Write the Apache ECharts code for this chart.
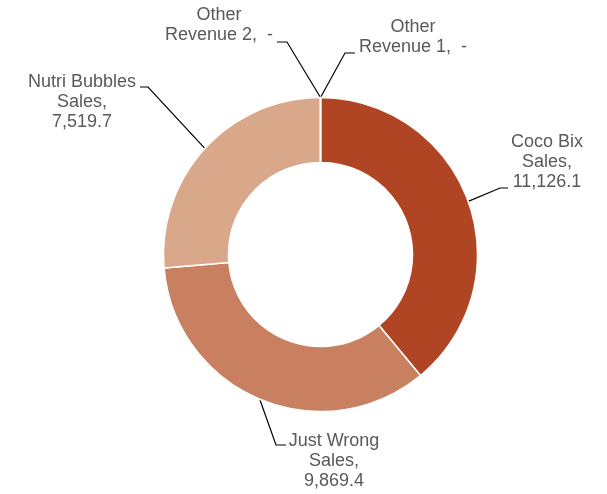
<!DOCTYPE html>
<html>
<head>
<meta charset="utf-8">
<script src="https://cdn.jsdelivr.net/npm/echarts@6/dist/echarts.min.js"></script>
<style>
  html, body { margin: 0; padding: 0; background: #ffffff; }
  #chart { width: 607px; height: 494px; }
</style>
</head>
<body>
<div id="chart"></div>
<script>
// Revenue split by product line
const categories = [
  'Coco Bix\nSales',
  'Just Wrong\nSales',
  'Nutri Bubbles\nSales',
  'Other\nRevenue 2',
  'Other\nRevenue 1'
];
const values = [11126.1, 9869.4, 7519.7, 0, 0];
const colors = ['#b04524', '#c98060', '#d9a78a', '#c9c9c9', '#a5a5a5'];

// Label anchor (centre of the text block) and leader-line elbow/end per slice
const labelPlacement = [
  { x: 547, y: 162, elbow: [500, 188], end: [508, 188] },
  { x: 334, y: 461, elbow: [276, 445], end: [286, 445] },
  { x: 82,  y: 102, elbow: [148, 87],  end: [140, 87] },
  { x: 219, y: 25,  elbow: [287, 42],  end: [277, 42] },
  { x: 413, y: 37,  elbow: [345, 53],  end: [355, 53] }
];

function fmtValue(v) {
  if (v === 0) return '-';
  return v.toLocaleString('en-US', { minimumFractionDigits: 1, maximumFractionDigits: 1 });
}

const chart = echarts.init(document.getElementById('chart'), null, { renderer: 'canvas' });

chart.setOption({
  backgroundColor: '#ffffff',
  animation: false,
  series: [{
    type: 'pie',
    center: [320.5, 254.5],
    radius: [92, 157],
    startAngle: 90,
    clockwise: true,
    avoidLabelOverlap: false,
    minShowLabelAngle: 0,
    itemStyle: { borderColor: '#ffffff', borderWidth: 1.5 },
    emphasis: { disabled: true },
    data: categories.map((name, i) => ({
      name: name,
      value: values[i],
      itemStyle: { color: colors[i] }
    })),
    label: {
      show: true,
      position: 'outside',
      color: '#595959',
      fontFamily: 'Liberation Sans, Arial, sans-serif',
      fontSize: 18,
      lineHeight: 20,
      align: 'center',
      formatter: function (p) {
        return p.value === 0
          ? p.name + ',  ' + fmtValue(p.value)
          : p.name + ',\n' + fmtValue(p.value);
      }
    },
    labelLine: {
      show: true,
      length: 20,
      length2: 10,
      smooth: false,
      lineStyle: { color: '#000000', width: 1.2 }
    },
    labelLayout: function (params) {
      const place = labelPlacement[params.dataIndex];
      const start = params.labelLinePoints && params.labelLinePoints[0];
      const out = {
        x: place.x,
        y: place.y,
        align: 'center',
        verticalAlign: 'middle'
      };
      if (start) {
        out.labelLinePoints = [[start[0], start[1]], place.elbow, place.end];
      }
      return out;
    }
  }]
});
</script>
</body>
</html>
